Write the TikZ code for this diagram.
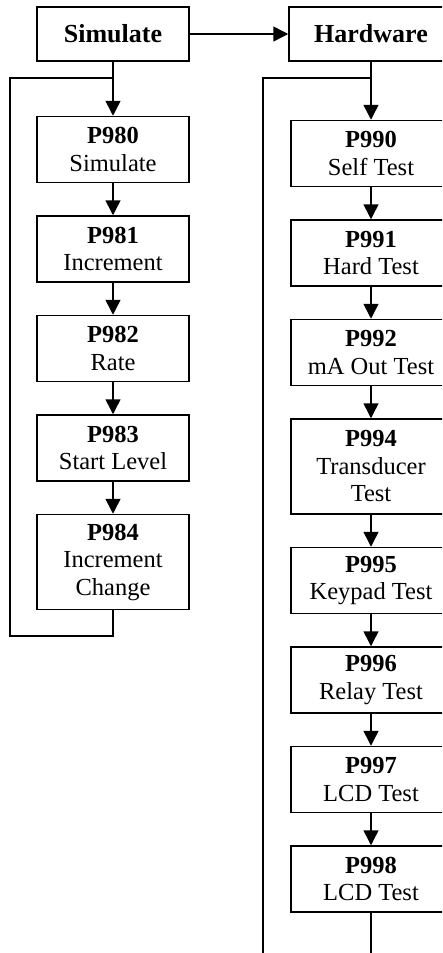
\documentclass[tikz,border=0pt]{standalone}
\usepackage{fontspec}
\setmainfont{Liberation Serif}
\usetikzlibrary{arrows.meta, positioning}

\begin{document}
\begin{tikzpicture}[
    x=1pt, y=1pt,
    node distance=32pt,
    box/.style={rectangle, draw=black, line width=1.5pt, minimum width=152pt, minimum height=66pt, inner sep=2pt, align=center, font=\fontsize{24.5}{27.5}\selectfont},
    rbox/.style={box, minimum width=160pt},
    head/.style={box, minimum height=54pt, font=\fontsize{26}{28}\selectfont\bfseries},
    arrow/.style={-{Triangle[length=15pt, width=15pt]}, line width=1.5pt},
    link/.style={line width=1.5pt}
]
    \useasboundingbox (0,0) rectangle (442,-953);
    \clip (0,0) rectangle (442,-953);

    \node[head] (sim) at (113,-34) {Simulate};
    \node[head, minimum width=164pt] (hw) at (371,-34) {Hardware};

    % simulate column
    \node[box, below=54pt of sim] (p980) {\textbf{P980}\\Simulate};
    \node[box, below=of p980] (p981) {\textbf{P981}\\Increment};
    \node[box, below=of p981] (p982) {\textbf{P982}\\Rate};
    \node[box, below=of p982] (p983) {\textbf{P983}\\Start Level};
    \node[box, below=of p983, minimum height=95pt] (p984) {\textbf{P984}\\Increment\\Change};

    % hardware column
    \node[rbox, below=58pt of hw] (p990) {\textbf{P990}\\Self Test};
    \node[rbox, below=of p990] (p991) {\textbf{P991}\\Hard Test};
    \node[rbox, below=of p991] (p992) {\textbf{P992}\\mA Out Test};
    \node[rbox, below=of p992, minimum height=95pt] (p994) {\textbf{P994}\\Transducer\\Test};
    \node[rbox, below=of p994] (p995) {\textbf{P995}\\Keypad Test};
    \node[rbox, below=of p995] (p996) {\textbf{P996}\\Relay Test};
    \node[rbox, below=of p996] (p997) {\textbf{P997}\\LCD Test};
    \node[rbox, below=of p997] (p998) {\textbf{P998}\\LCD Test};

    \coordinate (ljoin) at ([yshift=-16pt]sim.south);
    \coordinate (lcorner) at (10,-636);
    \coordinate (rjoin) at ([yshift=-16pt]hw.south);
    \coordinate (rcorner) at (263,-970);
    \coordinate (rend) at ([yshift=-60pt]p998.south);

    \draw[arrow] (sim) -- (hw);
    \draw[arrow] (sim) -- (p980);
    \draw[arrow] (p980) -- (p981);
    \draw[arrow] (p981) -- (p982);
    \draw[arrow] (p982) -- (p983);
    \draw[arrow] (p983) -- (p984);
    \draw[link] (p984.south) |- (lcorner) |- (ljoin);

    \draw[arrow] (hw) -- (p990);
    \draw[arrow] (p990) -- (p991);
    \draw[arrow] (p991) -- (p992);
    \draw[arrow] (p992) -- (p994);
    \draw[arrow] (p994) -- (p995);
    \draw[arrow] (p995) -- (p996);
    \draw[arrow] (p996) -- (p997);
    \draw[arrow] (p997) -- (p998);
    \draw[link] (p998.south) -- (rend);
    \draw[link] (rcorner) |- (rjoin);
\end{tikzpicture}
\end{document}
